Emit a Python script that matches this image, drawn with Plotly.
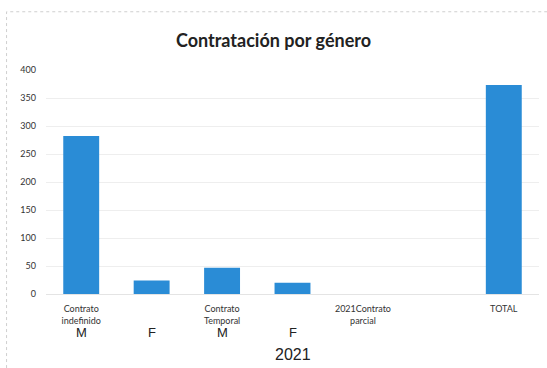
import plotly.graph_objects as go

# Etiquetas de categoría (primera fila del eje X)
categorias = ["Contrato<br>indefinido", "", "Contrato<br>Temporal", "", "2021Contrato<br>parcial", "", "TOTAL"]
# Segunda fila: género
genero = ["M", "F", "M", "F", "", "", ""]
# Número de contrataciones
valores = [282, 24, 47, 20, 0, 0, 373]
anio = "2021"

posiciones = list(range(len(valores)))

fig = go.Figure(
    go.Bar(
        x=posiciones,
        y=valores,
        marker=dict(color="#2A8CD6", line=dict(width=0)),
        hoverinfo="skip",
    )
)

annotations = []
for p, g in zip(posiciones, genero):
    if g:
        annotations.append(dict(
            x=p, y=-0.17, xref="x", yref="paper", text=g, showarrow=False,
            font=dict(family="Liberation Sans, Arial", size=13, color="#222"),
            xanchor="center", yanchor="middle",
        ))
annotations.append(dict(
    x=3, y=-0.27, xref="x", yref="paper", text=anio, showarrow=False,
    font=dict(family="Liberation Sans, Arial", size=16, color="#222"),
    xanchor="center", yanchor="middle",
))

fig.update_layout(
    width=547, height=368,
    margin=dict(l=46, r=8, t=70, b=74),
    paper_bgcolor="white", plot_bgcolor="white",
    showlegend=False,
    bargap=0.49,
    title=dict(
        text="<b>Contratación por género</b>",
        x=0.5, xref="container", xanchor="center", y=0.89, yanchor="middle",
        font=dict(family="Lato, Open Sans, sans-serif", size=18, color="#222"),
    ),
    xaxis=dict(
        range=[-0.5, 6.5],
        tickmode="array", tickvals=posiciones, ticktext=categorias,
        tickfont=dict(family="Lato, Open Sans, sans-serif", size=9, color="#333"),
        showgrid=False, showline=True, linecolor="#e4e4e4", linewidth=1,
        ticks="", zeroline=False, ticklabelstandoff=6,
    ),
    yaxis=dict(
        range=[0, 400], dtick=50,
        tickfont=dict(family="Lato, Open Sans, sans-serif", size=9, color="#333"),
        showgrid=True, gridcolor="#eeeeee", gridwidth=1,
        zeroline=False, showline=False, ticks="", ticklabelstandoff=9,
    ),
    annotations=annotations,
    shapes=[dict(
        type="rect", xref="paper", yref="paper",
        x0=-0.08, x1=1.03, y0=-0.5, y1=1.26,
        line=dict(color="#cfcfcf", width=1, dash="dot"),
    )],
)

fig.write_html("out.html")
